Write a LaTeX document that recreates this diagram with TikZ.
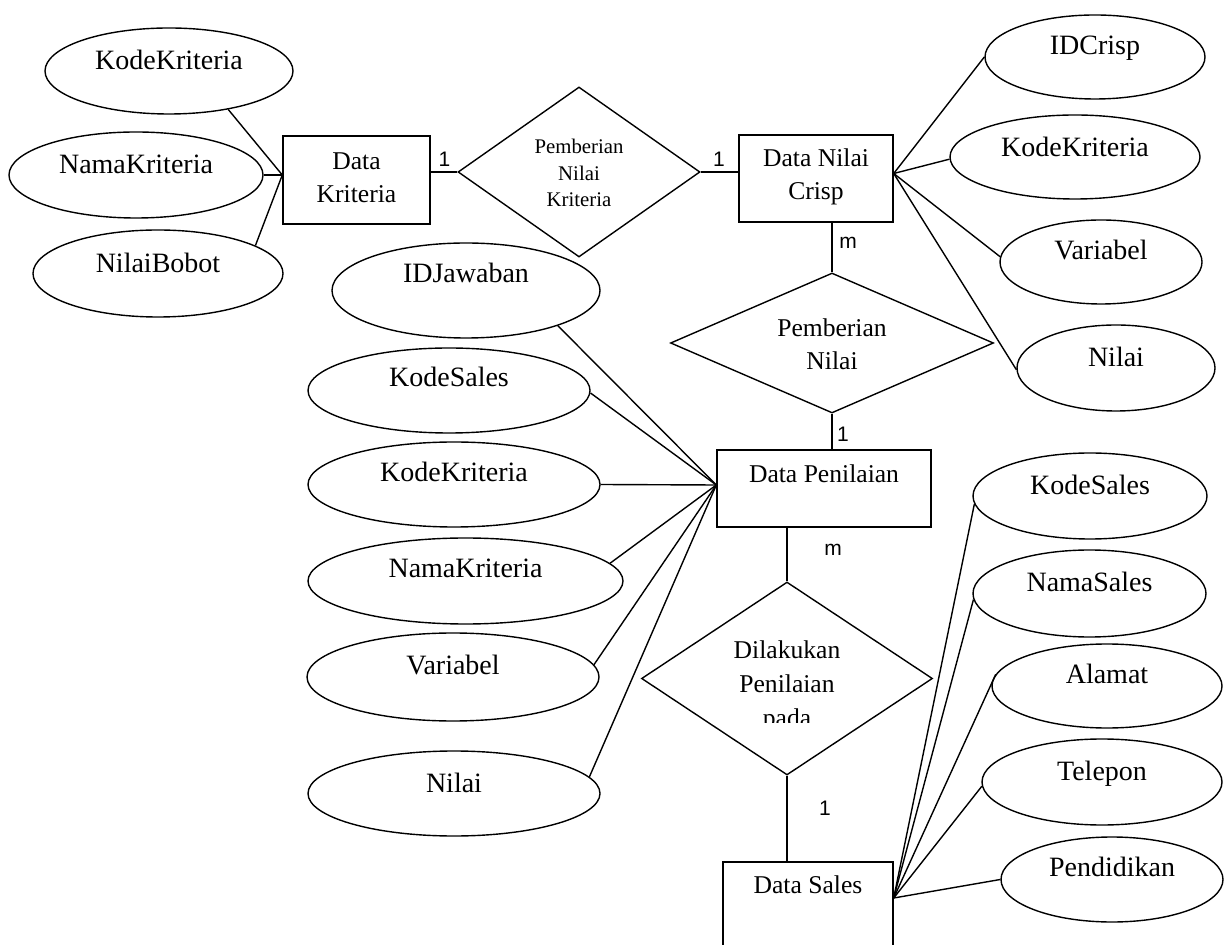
\documentclass[tikz,border=0pt]{standalone}
\usepackage{fontspec}
\setmainfont{Liberation Serif}
\newfontfamily\cardfont{Liberation Sans}
\usetikzlibrary{shapes.geometric}

% font sizes used in the ER diagram
\newcommand{\attrfont}{\fontsize{14}{17}\selectfont}
\newcommand{\entfont}{\fontsize{12.8}{16.5}\selectfont}
\newcommand{\relsmallfont}{\fontsize{10.4}{13.3}\selectfont}
\newcommand{\cardsize}{\cardfont\fontsize{10.5}{12}\selectfont}

\tikzset{
  x=0.5pt, y=-0.5pt,
  lw/.style={line width=0.7pt},
  conn/.style={lw},
  % baseline of the (last) text line relative to the shape centre
  off/.style={text height=4pt, text depth=#1},
  tall/.style={text height=#1, text depth=2pt},
  entity/.style={draw, lw, rectangle, inner sep=0pt, align=center, font=\entfont},
  relation/.style={draw, lw, diamond, inner sep=0pt, align=center, font=\entfont},
  attr/.style={draw, lw, ellipse, inner sep=0pt, font=\attrfont},
  card/.style={inner sep=0pt, font=\cardsize},
  sz/.style 2 args={minimum width=#1, minimum height=#2},
}

\begin{document}
\begin{tikzpicture}
\useasboundingbox (0,0) rectangle (1225,945);

% ---------- entities ----------
\node[entity, sz={73.5pt}{44pt}, tall=25pt]    (dk)  at (356.5,180)  {Data\\Kriteria};
\node[entity, sz={77pt}{43.5pt}, tall=23.5pt]  (dnc) at (816,178.5)  {Data Nilai\\Crisp};
\node[entity, sz={107pt}{38.5pt}, off=9.5pt]   (dp)  at (824,488.5)  {Data Penilaian};
\node[entity, sz={85pt}{49pt}, off=22pt]       (ds)  at (808,911)    {Data Sales};

% ---------- relationships ----------
\node[relation, sz={121pt}{85pt}, aspect=1.42, tall=37pt, font=\relsmallfont] (pnk) at (579,172) {Pemberian\\Nilai\\Kriteria};
\node[relation, sz={161.5pt}{70pt}, aspect=2.3, tall=29pt] (pn)  at (832,343)   {Pemberian\\Nilai};
\node[relation, sz={145.5pt}{96.5pt}, aspect=1.5]           (dlk) at (787,678.5) {};
\begin{scope}
  \clip (620,560) rectangle (960,722);
  \node[inner sep=0pt, align=center, font=\fontsize{12.8}{17}\selectfont, anchor=base] (dlktxt) at (787,726)
    {Dilakukan\\Penilaian\\pada};
\end{scope}

% ---------- attributes of Data Kriteria ----------
\node[attr, sz={124pt}{43pt}, off=5pt]     (a1) at (169,71)    {KodeKriteria};
\node[attr, sz={127pt}{43pt}, off=5pt]     (a2) at (136,175)   {NamaKriteria};
\node[attr, sz={125pt}{43.5pt}, off=4.5pt] (a3) at (158,273.5) {NilaiBobot};

% ---------- attributes of Data Nilai Crisp ----------
\node[attr, sz={110pt}{42pt}, off=6pt] (b1) at (1095,57)  {IDCrisp};
\node[attr, sz={125pt}{42pt}, off=4pt] (b2) at (1075,157) {KodeKriteria};
\node[attr, sz={101pt}{42pt}, off=6pt] (b3) at (1101,262) {Variabel};
\node[attr, sz={99pt}{43pt}, off=5pt]  (b4) at (1116,368) {Nilai};

% ---------- attributes of Data Penilaian ----------
\node[attr, sz={134pt}{47.5pt}, off=11.5pt] (c1) at (466,290.5)  {IDJawaban};
\node[attr, sz={141pt}{42.5pt}, off=7.5pt]  (c2) at (449,390.5)  {KodeSales};
\node[attr, sz={146pt}{42.5pt}, off=6.5pt]  (c3) at (454,484.5)  {KodeKriteria};
\node[attr, sz={157.5pt}{43pt}, off=7pt]    (c4) at (465.5,581)  {NamaKriteria};
\node[attr, sz={146pt}{44pt}, off=6pt]      (c5) at (453,677)    {Variabel};
\node[attr, sz={146pt}{42.5pt}, off=5.5pt]  (c6) at (454,793.5)  {Nilai};

% ---------- attributes of Data Sales ----------
\node[attr, sz={117pt}{43pt}, off=5pt]       (d1) at (1090,496)      {KodeSales};
\node[attr, sz={116.5pt}{43.5pt}, off=5.5pt] (d2) at (1089.5,593.5)  {NamaSales};
\node[attr, sz={115pt}{42pt}, off=7pt]       (d3) at (1107,686)      {Alamat};
\node[attr, sz={120pt}{43pt}, off=6pt]       (d4) at (1102,782)      {Telepon};
\node[attr, sz={111pt}{42.5pt}, off=7.5pt]   (d5) at (1112,879.5)    {Pendidikan};

% ---------- attribute links ----------
\coordinate (dkj)  at ([yshift=2.5pt]dk.west);
\coordinate (dncj) at ([yshift=2.5pt]dnc.east);
\coordinate (dpj)  at ([yshift=1.75pt]dp.west);
\coordinate (dsj)  at ([yshift=6.5pt]ds.east);

\draw[conn] (a1.-33) -- (dkj);
\draw[conn] (a2.east) -- (dkj);
\draw[conn] (a3.16) -- (dkj);

\draw[conn] (dncj) -- (b1.west);
\draw[conn] (dncj) -- (b2.181);
\draw[conn] (dncj) -- (b3.177);
\draw[conn] (dncj) -- (b4.181);

\draw[conn] (c1.-21) -- (dpj);
\draw[conn] (c2.-1.5) -- (dpj);
\draw[conn] (c3.east) -- (dpj);
\draw[conn] (c4.7) -- (dpj);
\draw[conn] (c5.5.8) -- (dpj);
\draw[conn] (c6.7.7) -- (dpj);

\draw[conn] (dsj) -- (d1.184.4);
\draw[conn] (dsj) -- (d2.183.2);
\draw[conn] (dsj) -- (d3.174.5);
\draw[conn] (dsj) -- (d4.182.4);
\draw[conn] (dsj) -- (d5.west);

% ---------- relationship links ----------
\draw[conn] (pnk.west -| dk.east) -- (pnk.west);
\draw[conn] (pnk.east) -- (pnk.east -| dnc.west);
\draw[conn] (pn.north |- dnc.south) -- (pn.north);
\draw[conn] (pn.south) -- (pn.south |- dp.north);
\draw[conn] (dlk.north |- dp.south) -- (dlk.north);
\draw[conn] (dlk.south) -- (dlk.south |- ds.north);

% ---------- cardinalities ----------
\node[card] (k1) at (444.5,159) {1};
\node[card] (k2) at (719,159)   {1};
\node[card] (k3) at (848,243)   {m};
\node[card] (k4) at (843,434)   {1};
\node[card] (k5) at (833,550)   {m};
\node[card] (k6) at (825,808)   {1};
\end{tikzpicture}
\end{document}
